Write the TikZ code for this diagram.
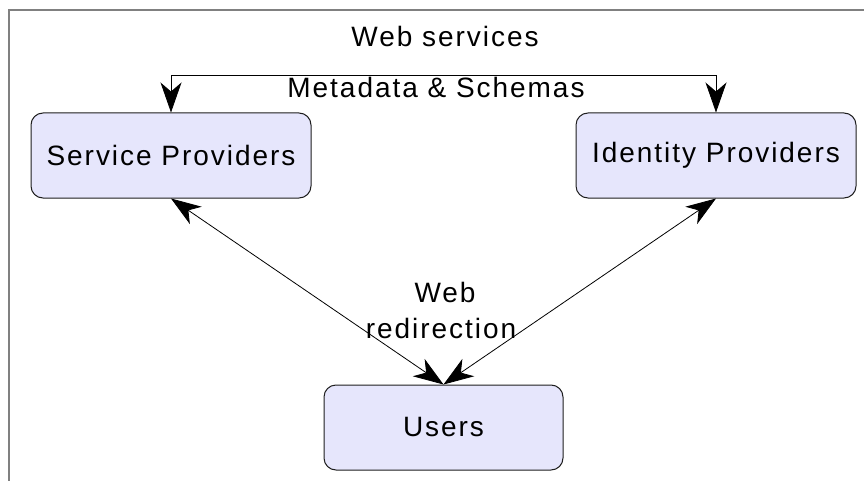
\documentclass[tikz,border=0pt]{standalone}
\usepackage{fontspec}
\setmainfont{Liberation Sans}[LetterSpace=7]
\usetikzlibrary{arrows.meta}
\definecolor{boxfill}{RGB}{230,230,252}
\definecolor{boxline}{RGB}{30,30,30}
\definecolor{framegray}{RGB}{128,128,128}
\tikzset{
  entity/.style={draw=boxline, line width=1pt, fill=boxfill, rounded corners=12pt,
    minimum height=85pt, inner sep=0pt, font=\fontsize{28}{33}\selectfont},
  lbl/.style={anchor=base, inner sep=0pt, font=\fontsize{28}{33}\selectfont},
  conn/.style={draw=black, line width=0.8pt,
    {Stealth[length=30pt,width=21pt,inset=9pt]}-{Stealth[length=30pt,width=21pt,inset=9pt]}},
}
\begin{document}
\begin{tikzpicture}[x=1pt,y=-1pt]
\useasboundingbox (0,0) rectangle (864,481);
\draw[framegray, line width=1.6pt] (9,481) -- (9,10) -- (864,10);
\node[entity, minimum width=280pt] (sp) at (171,155.5) {Service Providers};
\node[entity, minimum width=280pt] (idp) at (716,155.5) {Identity Providers};
\node[entity, minimum width=239pt] (users) at (443.5,427.5) {Users};
\draw[conn] (sp.north) -- ++(0,-37) -| (idp.north);
\draw[conn] (sp.south) -- (users.north);
\draw[conn] (idp.south) -- (users.north);
\node[lbl] (ws) at (445,47) {Web services};
\node[lbl] (ms) at (436,98) {Metadata \& Schemas};
\node[lbl] (w1) at (445,302) {Web};
\node[lbl] (w2) at (441,338) {redirection};
\end{tikzpicture}
\end{document}
